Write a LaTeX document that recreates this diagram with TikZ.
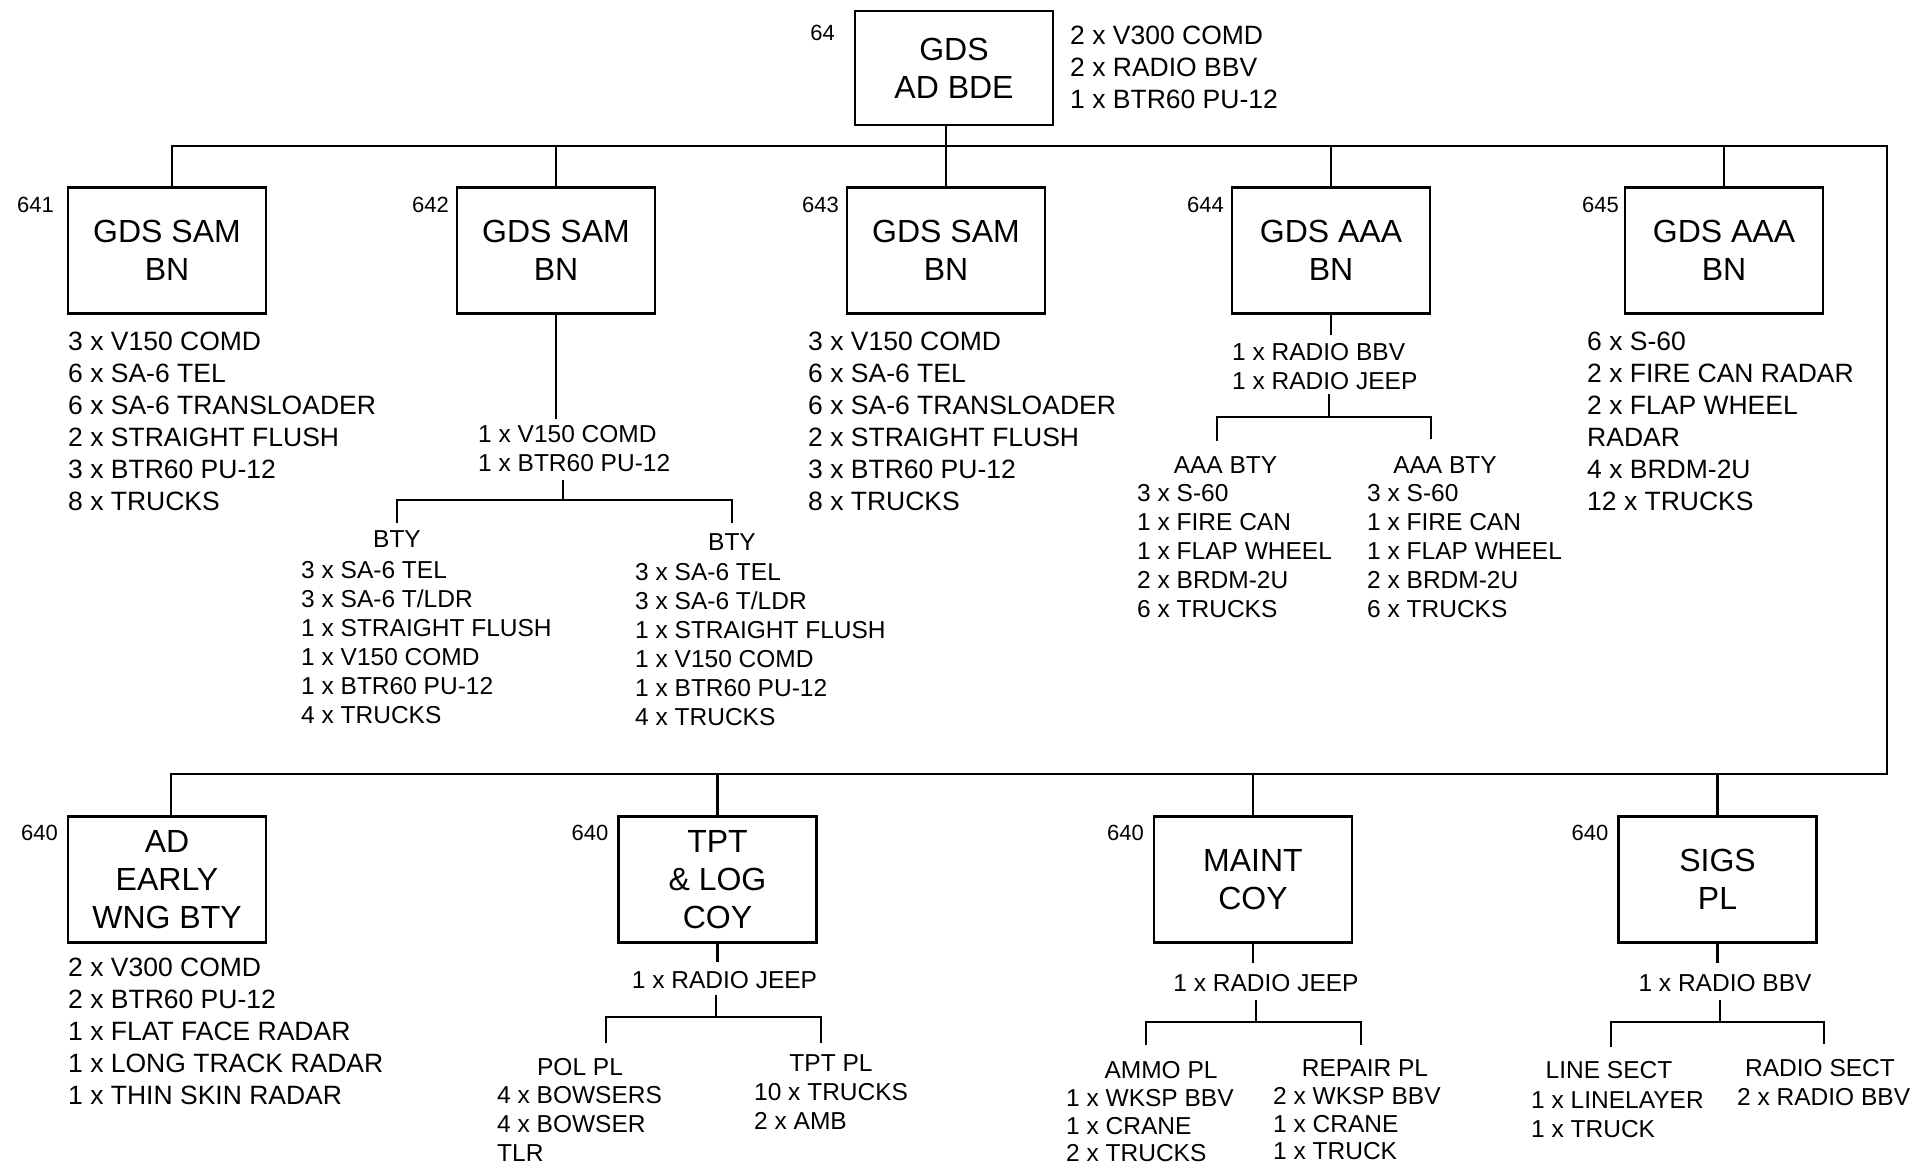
\documentclass[tikz,border=0pt]{standalone}
\usepackage{fontspec}
\setmainfont{Liberation Sans}
\usetikzlibrary{positioning}
\tikzset{
  orgbox/.style  = {draw=black, line width=2.4pt, minimum width=198pt, minimum height=126pt,
                    inner sep=0pt, outer sep=0pt, align=center, font=\fontsize{32}{38}\selectfont},
  numlbl/.style  = {inner sep=0pt, font=\fontsize{22}{26}\selectfont},
  eqlist/.style  = {inner sep=0pt, align=left, font=\fontsize{26.5}{32}\selectfont},
  eqsmall/.style = {inner sep=0pt, align=left, font=\fontsize{24.5}{29}\selectfont},
  subhead/.style = {inner sep=0pt, font=\fontsize{24.5}{29}\selectfont},
  conn/.style    = {draw=black, line width=2.2pt},
}

\begin{document}
\begin{tikzpicture}[x=1pt, y=-1pt]
  \fill[white] (0,0) rectangle (1928,1165);
  \useasboundingbox (0,0) rectangle (1928,1165);
  % brigade HQ
  \node[orgbox, minimum height=114pt] (gds) at (954,68) {GDS\\AD BDE};
  \node[numlbl, anchor=north east] at ([xshift=-20pt,yshift=-14pt]gds.north west) {64};
  \node[eqlist, right=17pt of gds.north east, anchor=north west, yshift=-14.5pt] (eq64)
    {2 x V300 COMD\\2 x RADIO BBV\\1 x BTR60 PU-12};
  % battalions
  \node[orgbox] (b641) at (167,250.5) {GDS SAM\\BN};
  \node[orgbox] (b642) at (556,250.5) {GDS SAM\\BN};
  \node[orgbox] (b643) at (946,250.5) {GDS SAM\\BN};
  \node[orgbox] (b644) at (1331,250.5) {GDS AAA\\BN};
  \node[orgbox] (b645) at (1724,250.5) {GDS AAA\\BN};
  \foreach \b/\t/\g in {b641/641/14, b642/642/8, b643/643/8, b644/644/8, b645/645/6}
    \node[numlbl, anchor=north east] at ([xshift=-\g pt,yshift=-9pt]\b.north west) {\t};
  \node[eqlist, below=18.5pt of b641.south west, anchor=north west] (eq641)
    {3 x V150 COMD\\6 x SA-6 TEL\\6 x SA-6 TRANSLOADER\\2 x STRAIGHT FLUSH\\3 x BTR60 PU-12\\8 x TRUCKS};
  \node[eqlist, anchor=north west] (eq643) at (808,331.5)
    {3 x V150 COMD\\6 x SA-6 TEL\\6 x SA-6 TRANSLOADER\\2 x STRAIGHT FLUSH\\3 x BTR60 PU-12\\8 x TRUCKS};
  \node[eqlist, anchor=north west] (eq645) at (1587,331.5)
    {6 x S-60\\2 x FIRE CAN RADAR\\2 x FLAP WHEEL\\RADAR\\4 x BRDM-2U\\12 x TRUCKS};
  % support units
  \node[orgbox] (adew) at (167,879.5) {AD\\EARLY\\WNG BTY};
  \node[orgbox] (tpt) at (717.5,879.5) {TPT\\\& LOG\\COY};
  \node[orgbox] (maint) at (1253,879.5) {MAINT\\COY};
  \node[orgbox] (sigs) at (1717.5,879.5) {SIGS\\PL};
  \foreach \b in {adew, tpt, maint, sigs}
    \node[numlbl, anchor=north east] at ([xshift=-10pt,yshift=-8pt]\b.north west) {640};
  \node[eqlist, below=15.5pt of adew.south west, anchor=north west] (adeq)
    {2 x V300 COMD\\2 x BTR60 PU-12\\1 x FLAT FACE RADAR\\1 x LONG TRACK RADAR\\1 x THIN SKIN RADAR};
  % buses
  \coordinate (busR) at (1887,146);
  \coordinate (busB) at (1887,774);
  \draw[conn] ([xshift=5pt]b641.north) |- (busR) -- (busB) -| ([xshift=4pt]adew.north);
  \foreach \b in {b642, b644, b645}
    \draw[conn] (\b.north) -- (\b.north |- busR);
  \draw[conn] (gds.south -| b643.north) -- (b643.north);
  \foreach \b in {tpt, maint, sigs}
    \draw[conn] (\b.north) -- (\b.north |- busB);
  % 642 batteries
  \node[eqsmall, anchor=north west] (hq642) at (478,425.2) {1 x V150 COMD\\1 x BTR60 PU-12};
  \draw[conn, shorten >=6pt] (b642.south) -- (b642.south |- hq642.north);
  \coordinate (br642) at (563,500);
  \draw[conn, shorten <=8pt] (br642 |- hq642.south) -- (br642);
  \node[subhead] (bty1) at (397,539) {BTY};
  \node[subhead] (bty2) at (732,542) {BTY};
  \draw[conn] ([yshift=7pt]bty1.north) |- (br642) -| ([yshift=10pt]bty2.north);
  \node[eqsmall, anchor=north west] (bty1eq) at (301,561.2)
    {3 x SA-6 TEL\\3 x SA-6 T/LDR\\1 x STRAIGHT FLUSH\\1 x V150 COMD\\1 x BTR60 PU-12\\4 x TRUCKS};
  \node[eqsmall, anchor=north west] (bty2eq) at (635,563.2)
    {3 x SA-6 TEL\\3 x SA-6 T/LDR\\1 x STRAIGHT FLUSH\\1 x V150 COMD\\1 x BTR60 PU-12\\4 x TRUCKS};
  % 644 batteries
  \node[eqsmall, anchor=north west] (hq644) at (1232,343.2) {1 x RADIO BBV\\1 x RADIO JEEP};
  \draw[conn, shorten >=8pt] (b644.south) -- (b644.south |- hq644.north);
  \coordinate (br644) at (1329,417);
  \draw[conn, shorten <=4pt] (br644 |- hq644.south) -- (br644);
  \node[subhead] (aaa1) at (1225.5,465) {AAA BTY};
  \node[subhead] (aaa2) at (1445,465) {AAA BTY};
  \draw[conn] ([xshift=-8.5pt,yshift=15pt]aaa1.north) |- (br644) -| ([xshift=-14pt,yshift=17pt]aaa2.north);
  \node[eqsmall, anchor=north west] (aaa1eq) at (1137,484.2)
    {3 x S-60\\1 x FIRE CAN\\1 x FLAP WHEEL\\2 x BRDM-2U\\6 x TRUCKS};
  \node[eqsmall, anchor=north west] (aaa2eq) at (1367,484.2)
    {3 x S-60\\1 x FIRE CAN\\1 x FLAP WHEEL\\2 x BRDM-2U\\6 x TRUCKS};
  % TPT & LOG platoons
  \node[subhead] (hqtpt) at (724.5,980) {1 x RADIO JEEP};
  \draw[conn, shorten >=9pt] (tpt.south) -- (tpt.south |- hqtpt.north);
  \coordinate (brtpt) at (716,1017);
  \draw[conn, shorten <=6pt] (brtpt |- hqtpt.south) -- (brtpt);
  \node[subhead] (pol) at (580,1067) {POL PL};
  \node[subhead] (tptpl) at (831,1063) {TPT PL};
  \draw[conn] ([xshift=26pt,yshift=15pt]pol.north) |- (brtpt) -| ([xshift=-10pt,yshift=11pt]tptpl.north);
  \node[eqsmall, anchor=north west] (poleq) at (497,1086.2) {4 x BOWSERS\\4 x BOWSER\\TLR};
  \node[eqsmall, anchor=north west] (tpteq) at (754,1083.2) {10 x TRUCKS\\2 x AMB};
  % MAINT platoons
  \node[subhead] (hqmaint) at (1266,983) {1 x RADIO JEEP};
  \draw[conn, shorten >=11pt] (maint.south) -- (maint.south |- hqmaint.north);
  \coordinate (brmaint) at (1256,1022);
  \draw[conn, shorten <=8pt] (brmaint |- hqmaint.south) -- (brmaint);
  \node[subhead] (ammo) at (1161,1070) {AMMO PL};
  \node[subhead] (repair) at (1365,1068) {REPAIR PL};
  \draw[conn] ([xshift=-15pt,yshift=16pt]ammo.north) |- (brmaint) -| ([xshift=-4pt,yshift=14pt]repair.north);
  \node[eqsmall, anchor=north west, font=\fontsize{24.5}{27.5}\selectfont] (ammoeq) at (1066,1089.5)
    {1 x WKSP BBV\\1 x CRANE\\2 x TRUCKS};
  \node[eqsmall, anchor=north west, font=\fontsize{24.5}{27.5}\selectfont] (repaireq) at (1273,1087.5)
    {2 x WKSP BBV\\1 x CRANE\\1 x TRUCK};
  % SIGS sections
  \node[subhead] (hqsigs) at (1725,983) {1 x RADIO BBV};
  \draw[conn, shorten >=11pt] (sigs.south) -- (sigs.south |- hqsigs.north);
  \coordinate (brsigs) at (1720,1022);
  \draw[conn, shorten <=8pt] (brsigs |- hqsigs.south) -- (brsigs);
  \node[subhead] (linesect) at (1609,1070) {LINE SECT};
  \node[subhead] (radiosect) at (1820,1068) {RADIO SECT};
  \draw[conn] ([xshift=2pt,yshift=14pt]linesect.north) |- (brsigs) -| ([xshift=4pt,yshift=15pt]radiosect.north);
  \node[eqsmall, anchor=north west] (lineeq) at (1531,1091.2) {1 x LINELAYER\\1 x TRUCK};
  \node[eqsmall, anchor=north west] (radioeq) at (1737,1088.2) {2 x RADIO BBV};
\end{tikzpicture}
\end{document}
